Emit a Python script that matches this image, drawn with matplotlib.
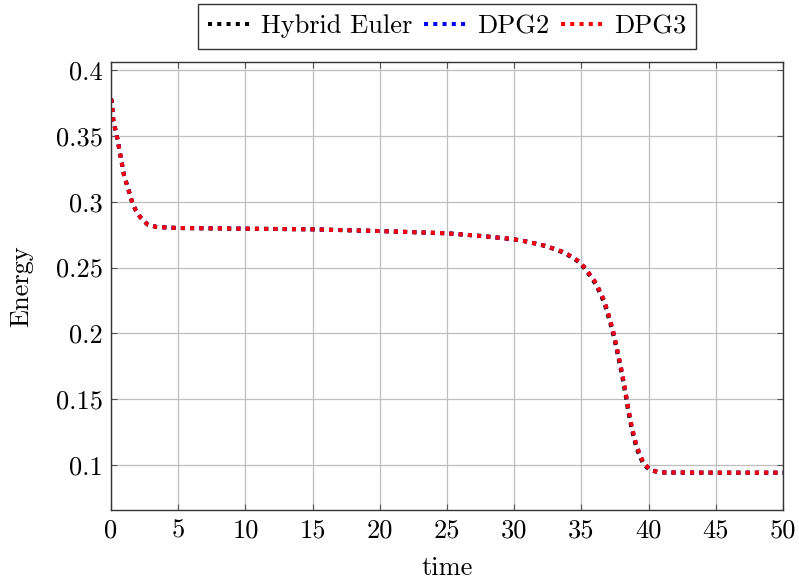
import numpy as np
import matplotlib
matplotlib.use("Agg")
import matplotlib.pyplot as plt

plt.rcParams['font.family'] = 'serif'
plt.rcParams['font.serif'] = ['cmr10', 'DejaVu Serif']
plt.rcParams['mathtext.fontset'] = 'cm'
plt.rcParams['axes.formatter.use_mathtext'] = True

# energy vs time
time = [0.0, 0.05, 0.17, 0.47, 0.72, 0.97, 1.18, 1.36, 1.56, 1.83, 2.2, 2.72, 3.39,
        5.0, 10.0, 15.0, 20.0, 25.0, 27.6, 28.9, 30.0, 31.0, 32.4, 33.6, 34.3, 34.85, 35.3, 36.1, 36.7,
        37.1, 37.45, 37.74, 38.02, 38.27, 38.5, 38.76, 39.1, 39.6, 40.1, 40.8, 45.0, 50.0]
energy_dpg = [0.378, 0.3765, 0.362, 0.348, 0.334, 0.320, 0.313, 0.307, 0.300, 0.2937, 0.288, 0.2827, 0.2808,
              0.2800, 0.2795, 0.2790, 0.2777, 0.2760, 0.2739, 0.2726, 0.2714, 0.2696, 0.2663, 0.2620, 0.2582,
              0.2544, 0.2494, 0.238, 0.2248,
              0.2114, 0.198, 0.184, 0.1704, 0.1564, 0.1423, 0.1286, 0.1147, 0.102, 0.0967, 0.0945, 0.0943, 0.0943]
energy_euler = [0.378, 0.3765, 0.362, 0.348, 0.334, 0.320, 0.313, 0.307, 0.300, 0.2937, 0.288, 0.2827, 0.2808,
                0.2800, 0.2795, 0.2790, 0.2777, 0.2760, 0.2739, 0.2726, 0.2714, 0.2696, 0.2661, 0.2616, 0.2577,
                0.2538, 0.2486, 0.2368, 0.2232,
                0.2096, 0.196, 0.182, 0.1682, 0.1542, 0.1400, 0.1264, 0.1128, 0.1008, 0.0962, 0.0945, 0.0943, 0.0943]

xticks = [0, 5, 10, 15, 20, 25, 30, 35, 40, 45, 50]
yticks = [0.1, 0.15, 0.2, 0.25, 0.3, 0.35, 0.4]
ytick_labels = ['0.1', '0.15', '0.2', '0.25', '0.3', '0.35', '0.4']

fig = plt.figure(figsize=(7.99, 5.83), dpi=100)
ax = fig.add_axes([111/799, 1-510/583, 672/799, 448/583])

lw = 2.9
for y, c, lab in [(energy_euler, 'black', 'Hybrid Euler'),
                  (energy_dpg, 'blue', 'DPG2'),
                  (energy_dpg, 'red', 'DPG3')]:
    ax.plot(time, y, color=c, lw=lw, dashes=(1, 1.3), dash_capstyle='butt', label=lab)

ax.set_xlim(0, 50)
ax.set_ylim(0.066, 0.406)
ax.set_xticks(xticks)
ax.set_xticklabels([str(t) for t in xticks])
ax.set_yticks(yticks)
ax.set_yticklabels(ytick_labels)
ax.tick_params(direction='in', top=True, right=True, length=4.5, width=0.8,
               color='#555555', labelsize=19, pad=6)
ax.grid(True, color='#bfbfbf', lw=0.9)
ax.set_axisbelow(True)
for s in ax.spines.values():
    s.set_linewidth(1.0)
    s.set_color('#333333')

ax.set_xlabel('time', fontsize=19, labelpad=10)
ax.set_ylabel('Energy', fontsize=19, labelpad=16)

leg = ax.legend(loc='lower center', bbox_to_anchor=(0.5, 1.029), ncol=3, fontsize=19,
                frameon=True, fancybox=False, edgecolor='black', handlelength=1.6,
                handletextpad=0.4, columnspacing=0.45, borderpad=0.4, borderaxespad=0)
leg.get_frame().set_linewidth(1.0)

fig.savefig('out.png', dpi=100)
